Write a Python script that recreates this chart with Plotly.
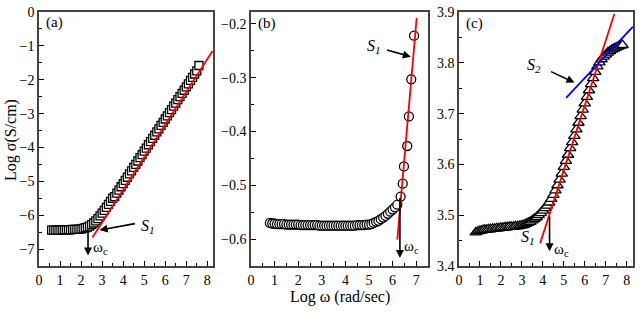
import plotly.graph_objects as go

# ---------------- data ----------------
a_x = [0.6, 0.7, 0.8, 0.9, 1.0, 1.1, 1.2, 1.3, 1.4, 1.5, 1.6, 1.7, 1.8, 1.9, 2.0,
       2.1, 2.2, 2.3, 2.4, 2.5, 2.6, 2.7, 2.8, 2.9, 3.0, 3.1, 3.2, 3.3, 3.4, 3.5,
       3.6, 3.7, 3.8, 3.9, 4.0, 4.1, 4.2, 4.3, 4.4, 4.5, 4.6, 4.7, 4.8, 4.9, 5.0,
       5.1, 5.2, 5.3, 5.4, 5.5, 5.6, 5.7, 5.8, 5.9, 6.0, 6.1, 6.2, 6.3, 6.4, 6.5,
       6.6, 6.7, 6.8, 6.9, 7.0, 7.1, 7.2, 7.3, 7.4, 7.5, 7.6]
a_y = [-6.44, -6.44, -6.44, -6.44, -6.44, -6.43, -6.43, -6.43, -6.43, -6.43, -6.42, -6.42, -6.42, -6.41, -6.41,
       -6.39, -6.37, -6.35, -6.32, -6.28, -6.23, -6.17, -6.10, -6.02, -5.94, -5.86, -5.77, -5.68, -5.59, -5.50,
       -5.45, -5.35, -5.26, -5.16, -5.07, -4.97, -4.88, -4.78, -4.69, -4.59, -4.50, -4.40, -4.30, -4.21, -4.11,
       -4.02, -3.92, -3.83, -3.73, -3.64, -3.54, -3.45, -3.35, -3.26, -3.16, -3.07, -2.97, -2.88, -2.78, -2.69,
       -2.59, -2.50, -2.40, -2.31, -2.21, -2.12, -2.02, -1.93, -1.83, -1.74, -1.58]
a_fit_x = [2.54, 8.25]
a_fit_y = [-6.66, -1.15]

b_x = [0.8, 0.9, 1.0, 1.1, 1.2, 1.3, 1.4, 1.5, 1.6, 1.7, 1.8, 1.9, 2.0, 2.1, 2.2,
       2.3, 2.4, 2.5, 2.6, 2.7, 2.8, 2.9, 3.0, 3.1, 3.2, 3.3, 3.4, 3.5, 3.6, 3.7,
       3.8, 3.9, 4.0, 4.1, 4.2, 4.3, 4.4, 4.5, 4.6, 4.7, 4.8, 4.9, 5.0, 5.1, 5.2,
       5.3, 5.4, 5.5, 5.6, 5.7, 5.8, 5.9, 6.0, 6.1, 6.2, 6.34, 6.43, 6.48, 6.62,
       6.69, 6.79, 6.91]
b_y = [-0.570, -0.571, -0.571, -0.572, -0.572, -0.572, -0.572, -0.573, -0.573, -0.573, -0.573, -0.573, -0.573, -0.574, -0.574,
       -0.574, -0.574, -0.574, -0.574, -0.574, -0.574, -0.575, -0.575, -0.575, -0.575, -0.575, -0.575, -0.575, -0.575, -0.575,
       -0.575, -0.575, -0.575, -0.575, -0.575, -0.575, -0.575, -0.574, -0.574, -0.574, -0.574, -0.573, -0.573, -0.572, -0.570,
       -0.568, -0.566, -0.563, -0.560, -0.557, -0.553, -0.549, -0.545, -0.541, -0.536, -0.521, -0.497, -0.465, -0.427,
       -0.372, -0.303, -0.222]
b_fit_x = [6.2, 7.02]
b_fit_y = [-0.601, -0.189]

c_x = [0.8, 0.9, 1.0, 1.1, 1.2, 1.3, 1.4, 1.5, 1.6, 1.7, 1.8, 1.9, 2.0, 2.1, 2.2,
       2.3, 2.4, 2.5, 2.6, 2.7, 2.8, 2.9, 3.0, 3.1, 3.2, 3.3, 3.4, 3.5, 3.6, 3.7,
       3.8, 3.9, 4.0, 4.1, 4.2, 4.3, 4.4, 4.5, 4.6, 4.7, 4.8, 4.9, 5.0, 5.1, 5.2,
       5.3, 5.4, 5.5, 5.6, 5.7, 5.8, 5.9, 6.0, 6.1, 6.2, 6.3, 6.4, 6.5, 6.6, 6.7,
       6.8, 6.9, 7.0, 7.1, 7.2, 7.3, 7.4, 7.5, 7.6, 7.7, 7.8]
c_y = [3.466, 3.468, 3.469, 3.470, 3.471, 3.471, 3.472, 3.472, 3.473, 3.473, 3.474, 3.474, 3.475, 3.475, 3.476,
       3.476, 3.477, 3.477, 3.477, 3.478, 3.478, 3.479, 3.480, 3.481, 3.483, 3.485, 3.487, 3.490, 3.493, 3.496,
       3.500, 3.504, 3.509, 3.514, 3.519, 3.525, 3.532, 3.540, 3.549, 3.559, 3.570, 3.582, 3.595, 3.607, 3.619,
       3.632, 3.644, 3.656, 3.669, 3.682, 3.695, 3.708, 3.720, 3.733, 3.746, 3.758, 3.770, 3.782, 3.793, 3.801,
       3.807, 3.812, 3.816, 3.820, 3.823, 3.826, 3.828, 3.830, 3.832, 3.834, 3.835]
c_fit1_x = [3.87, 7.41]
c_fit1_y = [3.4445, 3.896]
c_fit2_x = [5.11, 8.3]
c_fit2_y = [3.731, 3.871]

# ---------------- figure ----------------
FONT = "Liberation Serif"
fig = go.Figure()

def mk(symbol, size):
    return dict(symbol=symbol, size=size, color="white", line=dict(width=1.3, color="black"))

fig.add_trace(go.Scatter(x=a_x, y=a_y, mode="markers", xaxis="x", yaxis="y", marker=mk("square", 8)))
fig.add_trace(go.Scatter(x=a_fit_x, y=a_fit_y, mode="lines", xaxis="x", yaxis="y",
                         line=dict(color="red", width=1.8)))

fig.add_trace(go.Scatter(x=b_x, y=b_y, mode="markers", xaxis="x2", yaxis="y2", marker=mk("circle", 9)))
fig.add_trace(go.Scatter(x=b_fit_x, y=b_fit_y, mode="lines", xaxis="x2", yaxis="y2",
                         line=dict(color="red", width=1.8)))

fig.add_trace(go.Scatter(x=c_x, y=c_y, mode="markers", xaxis="x3", yaxis="y3", marker=mk("triangle-up", 10)))
fig.add_trace(go.Scatter(x=c_fit1_x, y=c_fit1_y, mode="lines", xaxis="x3", yaxis="y3",
                         line=dict(color="red", width=1.8)))
fig.add_trace(go.Scatter(x=c_fit2_x, y=c_fit2_y, mode="lines", xaxis="x3", yaxis="y3",
                         line=dict(color="blue", width=1.8)))

W, H = 640, 313
ytop = 1 - 12 / H
ybot = 1 - 266 / H

def xax(dom, rng, dtick, minor):
    return dict(domain=dom, range=rng, dtick=dtick, tick0=0, ticks="inside", ticklen=5,
                tickwidth=1, tickcolor="black", showline=True, mirror=True, linecolor="#444",
                linewidth=1.5, showgrid=False, zeroline=False, automargin=False,
                minor=dict(dtick=minor, ticks="inside", ticklen=3, tickcolor="black", showgrid=False),
                tickfont=dict(family=FONT, size=14, color="black"))

def yax(dom, rng, dtick, minor, anchor, fmt=None):
    d = dict(domain=dom, range=rng, dtick=dtick, ticks="inside", ticklen=5, tickwidth=1,
             tickcolor="black", showline=True, mirror=True, linecolor="#444", linewidth=1.5,
             showgrid=False, zeroline=False, anchor=anchor, automargin=False,
             minor=dict(dtick=minor, ticks="inside", ticklen=3, tickcolor="black", showgrid=False),
             tickfont=dict(family=FONT, size=14, color="black"))
    if fmt:
        d["tickformat"] = fmt
    return d

fig.update_layout(
    width=W, height=H, margin=dict(l=0, r=0, t=0, b=0, autoexpand=False),
    paper_bgcolor="white", plot_bgcolor="white", showlegend=False,
    xaxis=xax([39 / W, 213 / W], [0, 8.27], 1, 0.5),
    yaxis=dict(yax([ybot, ytop], [-7.5, 0], 1, 0.5, "x"), tick0=0),
    xaxis2=dict(xax([251 / W, 428 / W], [0, 7.5], 1, 0.5), anchor="y2"),
    yaxis2=dict(yax([ybot, ytop], [-0.65, -0.178], 0.1, 0.05, "x2", ".1f"), tick0=0),
    xaxis3=dict(xax([459 / W, 633 / W], [0, 8.3], 1, 0.5), anchor="y3"),
    yaxis3=dict(yax([ybot, ytop], [3.4, 3.9], 0.1, 0.05, "x3", ".1f"), tick0=0),
)
fig.layout.xaxis.anchor = "y"

ann = []
tf = dict(family=FONT, size=15, color="black")
# panel labels
ann.append(dict(text="(a)", x=0.25, y=-0.3, xref="x", yref="y", showarrow=False, xanchor="left", font=tf))
ann.append(dict(text="(b)", x=0.2, y=-0.2, xref="x2", yref="y2", showarrow=False, xanchor="left", font=tf))
ann.append(dict(text="(c)", x=0.25, y=3.877, xref="x3", yref="y3", showarrow=False, xanchor="left", font=tf))

aw = dict(showarrow=True, arrowhead=2, arrowsize=1, arrowwidth=1.6, arrowcolor="black", text="")
# (a)
ann.append(dict(aw, x=2.88, y=-6.44, ax=4.63, ay=-6.24, xref="x", yref="y", axref="x", ayref="y"))
ann.append(dict(aw, x=2.33, y=-7.19, ax=2.33, ay=-6.39, xref="x", yref="y", axref="x", ayref="y"))
ann.append(dict(text="<i>S<sub>1</sub></i>", x=4.75, y=-6.33, xref="x", yref="y", showarrow=False,
                xanchor="left", font=dict(family=FONT, size=16, color="black")))
ann.append(dict(text="ω<sub>c</sub>", x=2.45, y=-6.98, xref="x", yref="y", showarrow=False,
                xanchor="left", font=tf))
# (b)
ann.append(dict(aw, x=6.77, y=-0.261, ax=5.70, ay=-0.248, xref="x2", yref="y2", axref="x2", ayref="y2"))
ann.append(dict(aw, x=6.31, y=-0.635, ax=6.31, ay=-0.521, xref="x2", yref="y2", axref="x2", ayref="y2"))
ann.append(dict(text="<i>S<sub>1</sub></i>", x=5.2, y=-0.242, xref="x2", yref="y2", showarrow=False,
                font=dict(family=FONT, size=16, color="black")))
ann.append(dict(text="ω<sub>c</sub>", x=6.4, y=-0.615, xref="x2", yref="y2", showarrow=False,
                xanchor="left", font=tf))
# (c)
ann.append(dict(aw, x=5.51, y=3.761, ax=4.32, ay=3.784, xref="x3", yref="y3", axref="x3", ayref="y3"))
ann.append(dict(aw, x=4.32, y=3.429, ax=4.32, ay=3.501, xref="x3", yref="y3", axref="x3", ayref="y3"))
ann.append(dict(text="<i>S<sub>2</sub></i>", x=3.6, y=3.794, xref="x3", yref="y3", showarrow=False,
                font=dict(family=FONT, size=16, color="black")))
ann.append(dict(text="<i>S<sub>1</sub></i>", x=3.29, y=3.456, xref="x3", yref="y3", showarrow=False,
                font=dict(family=FONT, size=16, color="black")))
ann.append(dict(text="ω<sub>c</sub>", x=4.45, y=3.432, xref="x3", yref="y3", showarrow=False,
                xanchor="left", font=tf))
# axis titles
ann.append(dict(text="Log ω (rad/sec)", x=340 / W, y=1 - 297 / H, xref="paper", yref="paper",
                xanchor="center", yanchor="middle",
                showarrow=False, font=dict(family=FONT, size=16, color="black")))
ann.append(dict(text="Log σ(S/cm)", x=11 / W, y=1 - 140 / H, xref="paper", yref="paper",
                xanchor="center", yanchor="middle",
                showarrow=False, textangle=-90, font=dict(family=FONT, size=16, color="black")))

fig.update_layout(annotations=ann)
fig.write_html("out.html", config={"displayModeBar": False},
               post_script="document.body.style.margin='0';document.body.style.overflow='hidden';")
